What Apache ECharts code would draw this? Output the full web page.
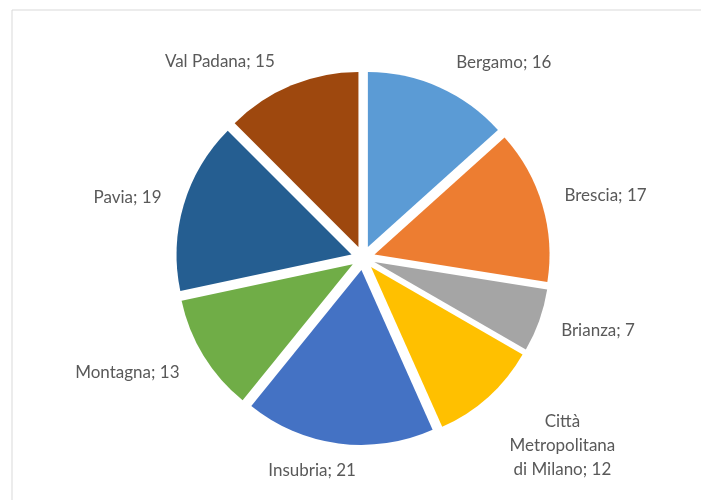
<!DOCTYPE html>
<html><head><meta charset="utf-8">
<script src="https://cdn.jsdelivr.net/npm/echarts@6/dist/echarts.min.js"></script>
<style>html,body{margin:0;padding:0;background:#fff}#c{width:701px;height:500px}</style>
</head><body><div id="c"></div>
<script>
const categories = ['Bergamo','Brescia','Brianza','Città\nMetropolitana\ndi Milano','Insubria','Montagna','Pavia','Val Padana'];
const values = [16,17,7,12,21,13,19,15];
const colors = ['#5B9BD5','#ED7D31','#A5A5A5','#FFC000','#4472C4','#70AD47','#255E91','#9E480E'];
// small label nudges (style only), in px
const labelNudge = [[4,-6],[-2,-4],[-2,3],[3,34],[25,7],[-2,6],[2,-2],[-4,-5]];

const chart = echarts.init(document.getElementById('c'), null, {renderer:'canvas'});
chart.setOption({
  animation:false,
  graphic:[{type:'rect',shape:{x:12,y:10,width:720,height:520},style:{fill:'none',stroke:'#d9d9d9',lineWidth:1},silent:true}],
  series:[{
    type:'pie',
    center:[363,258],
    radius:175,
    startAngle:90,
    clockwise:true,
    selectedMode:'multiple',
    selectedOffset:12,
    avoidLabelOverlap:false,
    data: categories.map((n,i)=>({name:n,value:values[i],selected:true,itemStyle:{color:colors[i]}})),
    itemStyle:{borderWidth:0},
    label:{show:true,position:'outside',formatter:'{b}; {c}',fontFamily:'Lato',fontSize:17,color:'#595959',lineHeight:24},
    labelLine:{show:false,length:20,length2:0},
    labelLayout:function(p){
      const i=p.dataIndex, w=p.labelRect.width;
      const half = p.align==='right' ? -w/2 : w/2;
      return {align:'center', dx: half + labelNudge[i][0], dy: labelNudge[i][1]};
    },
    emphasis:{disabled:true}
  }]
});
</script></body></html>
